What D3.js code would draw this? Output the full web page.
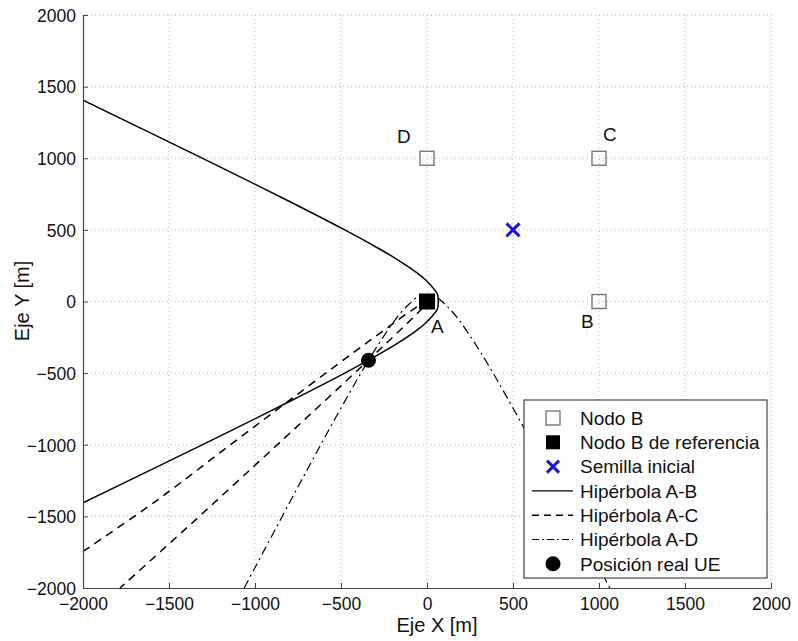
<!DOCTYPE html>
<html><head><meta charset="utf-8">
<script src="https://cdn.jsdelivr.net/npm/d3@7"></script>
<style>body{margin:0;background:#fff}svg{display:block}text{font-family:"Liberation Sans",Arial,sans-serif}</style>
</head><body><svg id="c" width="798" height="641"></svg>
<script>
// ---- data ----
const xTicks = [-2000,-1500,-1000,-500,0,500,1000,1500,2000];
const yTicks = [-2000,-1500,-1000,-500,0,500,1000,1500,2000];
const nodeNames = ["B","C","D"];
const nodeX = [1000,1000,0];
const nodeY = [0,1000,1000];
const refNode = {name:"A", x:0, y:0};
const seed = {x:500, y:500};
const ue = {x:-340, y:-410};
// Hipérbola A-B
const hypAB_x = [-2000,-1477,-1136,-802,-478,-325,-182,-58,-8,32,61,66,61,32,-8,-58,-182,-325,-340,-478,-802,-1136,-1477,-2000];
const hypAB_y = [1405,1100,900,700,500,400,300,200,150,100,50,0,-50,-100,-150,-200,-300,-400,-410,-500,-700,-900,-1100,-1405];
// Hipérbola A-C
const hypAC_x = [-2000,-1578,-1132,-770,-428,-244,-95,-28,1,-14,-66,-195,-357,-663,-990,-1395,-1785];
const hypAC_y = [-1745,-1395,-990,-663,-357,-195,-66,-14,1,-28,-95,-244,-428,-770,-1132,-1578,-2000];
// Hipérbola A-D
const hypAD_x = [-1063,-800,-600,-400,-300,-200,-150,-100,-50,0,50,100,150,200,300,400,600,800,1063];
const hypAD_y = [-2000,-1406,-961,-532,-332,-152,-75,-14,34,41,34,-14,-75,-152,-332,-532,-961,-1406,-2000];
const legendLabels = ["Nodo B","Nodo B de referencia","Semilla inicial","Hipérbola A-B","Hipérbola A-C","Hipérbola A-D","Posición real UE"];

// ---- chart ----
const svg = d3.select("#c");
const L=83, R=771, T=15, B=588;
const x = d3.scaleLinear().domain([-2000,2000]).range([L,R]);
const y = d3.scaleLinear().domain([-2000,2000]).range([B,T]);
const axisCol = "#444";
const fmt = d => d<0 ? "\u2212"+Math.abs(d) : String(d);

// grid
const g = svg.append("g");
g.selectAll(".gx").data(xTicks.filter(d=>d>-2000)).join("line")
  .attr("x1",d=>x(d)).attr("x2",d=>x(d)).attr("y1",T).attr("y2",B)
  .attr("stroke","#b5b5b5").attr("stroke-width",1).attr("stroke-dasharray","1,3");
g.selectAll(".gy").data(yTicks.filter(d=>d>-2000)).join("line")
  .attr("y1",d=>y(d)).attr("y2",d=>y(d)).attr("x1",L).attr("x2",R)
  .attr("stroke","#b5b5b5").attr("stroke-width",1).attr("stroke-dasharray","1,3");

// clip
svg.append("clipPath").attr("id","clip").append("rect").attr("x",L).attr("y",T).attr("width",R-L).attr("height",B-T);
const plot = svg.append("g").attr("clip-path","url(#clip)");
const line = d3.line().x(d=>x(d[0])).y(d=>y(d[1])).curve(d3.curveCatmullRom);
const zip = (a,b)=>a.map((v,i)=>[v,b[i]]);
plot.append("path").datum(zip(hypAB_x,hypAB_y)).attr("d",line).attr("fill","none").attr("stroke","#000").attr("stroke-width",1.5);
plot.append("path").datum(zip(hypAC_x,hypAC_y)).attr("d",line).attr("fill","none").attr("stroke","#000").attr("stroke-width",1.5).attr("stroke-dasharray","8,6");
plot.append("path").datum(zip(hypAD_x,hypAD_y)).attr("d",line).attr("fill","none").attr("stroke","#000").attr("stroke-width",1.2).attr("stroke-dasharray","9,4,2,4");

// axes
const ax = svg.append("g").attr("transform",`translate(0,${B})`)
  .call(d3.axisBottom(x).tickValues(xTicks).tickFormat(fmt).tickSizeInner(-5).tickSizeOuter(0).tickPadding(9));
const ay = svg.append("g").attr("transform",`translate(${L},0)`)
  .call(d3.axisLeft(y).tickValues(yTicks).tickFormat(fmt).tickSizeInner(-5).tickSizeOuter(0).tickPadding(7));
[ax,ay].forEach(a=>{
  a.select(".domain").attr("stroke",axisCol).attr("stroke-width",1.2);
  a.selectAll(".tick line").attr("stroke",axisCol).attr("stroke-width",1);
  a.selectAll("text").attr("fill","#111").attr("font-size",17.5).attr("font-family","Liberation Sans, Arial, sans-serif");
});
ax.selectAll("text").attr("dy","0.75em");
ay.selectAll("text").attr("dy","0.36em");

// markers
svg.selectAll(".node").data(nodeNames).join("rect")
  .attr("x",(d,i)=>x(nodeX[i])-7).attr("y",(d,i)=>y(nodeY[i])-7).attr("width",14).attr("height",14)
  .attr("fill","none").attr("stroke","#777").attr("stroke-width",1.4);
svg.append("rect").attr("x",x(refNode.x)-8).attr("y",y(refNode.y)-8).attr("width",16).attr("height",16).attr("fill","#000");
const xs = 6.5;
svg.append("path").attr("d",`M${x(seed.x)-xs},${y(seed.y)-xs}L${x(seed.x)+xs},${y(seed.y)+xs}M${x(seed.x)-xs},${y(seed.y)+xs}L${x(seed.x)+xs},${y(seed.y)-xs}`)
  .attr("stroke","#1717d4").attr("stroke-width",3);
svg.append("circle").attr("cx",x(ue.x)).attr("cy",y(ue.y)).attr("r",7.5).attr("fill","#000");

// node labels
const lbl = [["A",refNode.x,refNode.y,4,31],["B",nodeX[0],nodeY[0],-18,26],["C",nodeX[1],nodeY[1],4,-17],["D",nodeX[2],nodeY[2],-30,-15]];
svg.selectAll(".lbl").data(lbl).join("text")
  .attr("x",d=>x(d[1])+d[3]).attr("y",d=>y(d[2])+d[4]).attr("font-size",19).attr("fill","#111").text(d=>d[0]);

// axis titles
svg.append("text").attr("x",437).attr("y",632).attr("text-anchor","middle").attr("font-size",20).attr("fill","#111").text("Eje X [m]");
svg.append("text").attr("transform","translate(29,301) rotate(-90)").attr("text-anchor","middle").attr("font-size",20).attr("fill","#111").text("Eje Y [m]");

// legend
const lg = svg.append("g");
lg.append("rect").attr("x",524).attr("y",400).attr("width",243).attr("height",178).attr("fill","#fff").attr("stroke","#444").attr("stroke-width",1.2);
const rowY = i => 418 + i*24.3;
const sx = 553;
legendLabels.forEach((t,i)=>{
  lg.append("text").attr("x",580).attr("y",rowY(i)).attr("dy","0.36em").attr("font-size",19).attr("fill","#111").text(t);
});
lg.append("rect").attr("x",sx-7).attr("y",rowY(0)-7).attr("width",14).attr("height",14).attr("fill","none").attr("stroke","#777").attr("stroke-width",1.4);
lg.append("rect").attr("x",sx-7).attr("y",rowY(1)-7).attr("width",14).attr("height",14).attr("fill","#000");
lg.append("path").attr("d",`M${sx-6},${rowY(2)-6}L${sx+6},${rowY(2)+6}M${sx-6},${rowY(2)+6}L${sx+6},${rowY(2)-6}`).attr("stroke","#1717d4").attr("stroke-width",3);
lg.append("line").attr("x1",532).attr("x2",573).attr("y1",rowY(3)).attr("y2",rowY(3)).attr("stroke","#000").attr("stroke-width",1.4);
lg.append("line").attr("x1",532).attr("x2",573).attr("y1",rowY(4)).attr("y2",rowY(4)).attr("stroke","#000").attr("stroke-width",1.4).attr("stroke-dasharray","7,5");
lg.append("line").attr("x1",532).attr("x2",573).attr("y1",rowY(5)).attr("y2",rowY(5)).attr("stroke","#000").attr("stroke-width",1.1).attr("stroke-dasharray","7,3,2,3");
lg.append("circle").attr("cx",sx).attr("cy",rowY(6)).attr("r",7.5).attr("fill","#000");
</script></body></html>
